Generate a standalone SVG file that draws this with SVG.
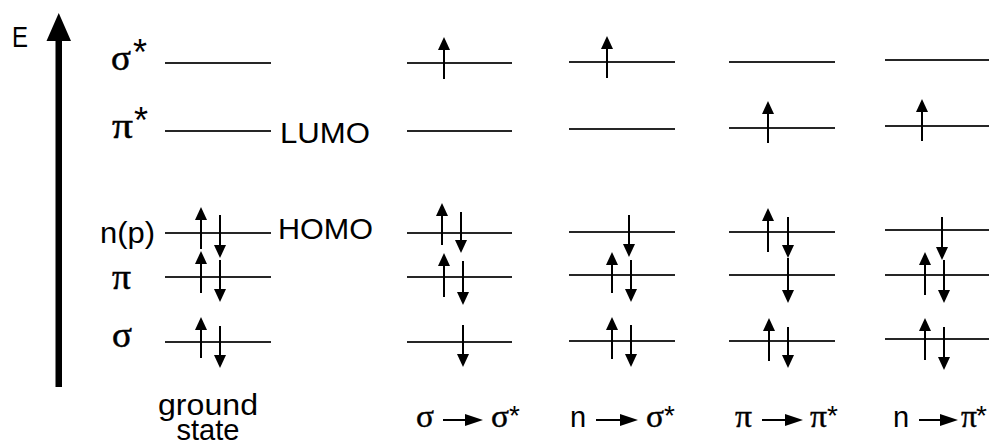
<svg xmlns="http://www.w3.org/2000/svg" width="989" height="446" viewBox="0 0 989 446">
<style>
.lv{stroke:#262626;stroke-width:2;fill:none}
.e{stroke:#000;stroke-width:2;fill:none;marker-end:url(#ah)}
.t{font-family:"Liberation Sans",Arial,sans-serif;font-size:29px;fill:#000}
.g{font-family:"Liberation Serif","Times New Roman",serif;font-size:36px;fill:#000;stroke:#000;stroke-width:0.5}
.gb{font-family:"Liberation Serif","Times New Roman",serif;font-size:32px;fill:#000;stroke:#000;stroke-width:0.4}
.st{font-family:"Liberation Sans",Arial,sans-serif;font-size:36px;fill:#000}
.sb{font-family:"Liberation Sans",Arial,sans-serif;font-size:28px;fill:#000}
</style>
<defs>
<marker id="ah" viewBox="0 0 13 12" refX="7" refY="6" markerWidth="13" markerHeight="12" markerUnits="userSpaceOnUse" orient="auto">
<path d="M0,0 L13,6 L0,12 z" fill="#000"/>
</marker>
<marker id="ah2" viewBox="0 0 18 12" refX="12" refY="6" markerWidth="18" markerHeight="12" markerUnits="userSpaceOnUse" orient="auto">
<path d="M0,0 L18,6 L0,12 z" fill="#000"/>
</marker>
</defs>
<rect width="989" height="446" fill="#fff"/>

<g id="axis">
<rect x="55.5" y="38" width="6.5" height="349" fill="#000"/>
<polygon points="58.75,13 71,41 46.5,41" fill="#000"/>
<text class="t" x="12" y="47" font-size="20" textLength="16" lengthAdjust="spacingAndGlyphs">E</text>
</g>

<g id="labels">
<text class="g" x="111" y="70" textLength="20" lengthAdjust="spacingAndGlyphs">σ</text><text class="st" x="133" y="65">*</text>
<text class="g" x="112" y="138" textLength="21" lengthAdjust="spacingAndGlyphs">π</text><text class="st" x="134" y="133">*</text>
<text class="t" x="100" y="243" textLength="55" lengthAdjust="spacingAndGlyphs">n(p)</text>
<text class="g" x="112" y="289" textLength="19" lengthAdjust="spacingAndGlyphs">π</text>
<text class="g" x="112" y="347" textLength="20" lengthAdjust="spacingAndGlyphs">σ</text>
<text class="t" x="280" y="143" textLength="90" lengthAdjust="spacingAndGlyphs">LUMO</text>
<text class="t" x="278" y="238.5" textLength="95" lengthAdjust="spacingAndGlyphs">HOMO</text>
</g>

<g id="col-ground">
<line class="lv" x1="165" y1="63" x2="271" y2="63"/>
<line class="lv" x1="165" y1="131" x2="271" y2="131"/>
<line class="lv" x1="165" y1="233" x2="271" y2="233"/>
<line class="lv" x1="165" y1="277" x2="271" y2="277"/>
<line class="lv" x1="165" y1="342" x2="271" y2="342"/>
<line class="e" x1="201" y1="249" x2="201" y2="213"/>
<line class="e" x1="220" y1="215" x2="220" y2="252"/>
<line class="e" x1="201" y1="293" x2="201" y2="257"/>
<line class="e" x1="220" y1="260" x2="220" y2="296"/>
<line class="e" x1="201" y1="358" x2="201" y2="323"/>
<line class="e" x1="220" y1="326" x2="220" y2="362"/>
<text class="t" x="208" y="415" text-anchor="middle" textLength="100" lengthAdjust="spacingAndGlyphs">ground</text>
<text class="t" x="208" y="440" text-anchor="middle" font-size="27" textLength="63" lengthAdjust="spacingAndGlyphs">state</text>
</g>

<g id="col-sigma-sigma-star">
<line class="lv" x1="407" y1="63" x2="512" y2="63"/>
<line class="lv" x1="407" y1="131" x2="512" y2="131"/>
<line class="lv" x1="407" y1="233" x2="512" y2="233"/>
<line class="lv" x1="407" y1="277" x2="512" y2="277"/>
<line class="lv" x1="407" y1="342" x2="512" y2="342"/>
<line class="e" x1="444" y1="79" x2="444" y2="43"/>
<line class="e" x1="442" y1="245" x2="442" y2="209"/>
<line class="e" x1="461" y1="212" x2="461" y2="247"/>
<line class="e" x1="444" y1="297" x2="444" y2="259"/>
<line class="e" x1="463" y1="261" x2="463" y2="299"/>
<line class="e" x1="463" y1="325" x2="463" y2="361"/>
<text class="gb" x="416" y="427" textLength="18" lengthAdjust="spacingAndGlyphs">σ</text>
<line x1="443" y1="420" x2="477" y2="420" stroke="#000" stroke-width="2" marker-end="url(#ah2)"/>
<text class="gb" x="491" y="427" textLength="18" lengthAdjust="spacingAndGlyphs">σ</text><text class="sb" x="509" y="425">*</text>
</g>

<g id="col-n-sigma-star">
<line class="lv" x1="569" y1="62" x2="675" y2="62"/>
<line class="lv" x1="569" y1="129" x2="675" y2="129"/>
<line class="lv" x1="569" y1="232" x2="675" y2="232"/>
<line class="lv" x1="569" y1="275" x2="675" y2="275"/>
<line class="lv" x1="569" y1="341" x2="675" y2="341"/>
<line class="e" x1="607" y1="78" x2="607" y2="42"/>
<line class="e" x1="629" y1="215" x2="629" y2="251"/>
<line class="e" x1="612" y1="293" x2="612" y2="258"/>
<line class="e" x1="631" y1="260" x2="631" y2="296"/>
<line class="e" x1="612" y1="359" x2="612" y2="323"/>
<line class="e" x1="631" y1="325" x2="631" y2="361"/>
<text class="t" x="570" y="427">n</text>
<line x1="596" y1="420" x2="632" y2="420" stroke="#000" stroke-width="2" marker-end="url(#ah2)"/>
<text class="gb" x="646" y="427" textLength="18" lengthAdjust="spacingAndGlyphs">σ</text><text class="sb" x="664" y="425">*</text>
</g>

<g id="col-pi-pi-star">
<line class="lv" x1="729" y1="62" x2="835" y2="62"/>
<line class="lv" x1="729" y1="128" x2="835" y2="128"/>
<line class="lv" x1="729" y1="232" x2="835" y2="232"/>
<line class="lv" x1="729" y1="275" x2="835" y2="275"/>
<line class="lv" x1="729" y1="341" x2="835" y2="341"/>
<line class="e" x1="768" y1="143" x2="768" y2="107"/>
<line class="e" x1="768" y1="252" x2="768" y2="214"/>
<line class="e" x1="788" y1="217" x2="788" y2="252"/>
<line class="e" x1="788" y1="258" x2="788" y2="297"/>
<line class="e" x1="769" y1="361" x2="769" y2="324"/>
<line class="e" x1="788" y1="327" x2="788" y2="362"/>
<text class="gb" x="735" y="427" textLength="17" lengthAdjust="spacingAndGlyphs">π</text>
<line x1="762" y1="420" x2="797" y2="420" stroke="#000" stroke-width="2" marker-end="url(#ah2)"/>
<text class="gb" x="810" y="427" textLength="17" lengthAdjust="spacingAndGlyphs">π</text><text class="sb" x="827" y="425">*</text>
</g>

<g id="col-n-pi-star">
<line class="lv" x1="885" y1="60" x2="989" y2="60"/>
<line class="lv" x1="885" y1="126" x2="989" y2="126"/>
<line class="lv" x1="885" y1="230" x2="989" y2="230"/>
<line class="lv" x1="885" y1="275" x2="989" y2="275"/>
<line class="lv" x1="885" y1="339" x2="989" y2="339"/>
<line class="e" x1="922" y1="141" x2="922" y2="105"/>
<line class="e" x1="942" y1="217" x2="942" y2="254"/>
<line class="e" x1="925" y1="295" x2="925" y2="258"/>
<line class="e" x1="944" y1="260" x2="944" y2="297"/>
<line class="e" x1="925" y1="360" x2="925" y2="324"/>
<line class="e" x1="944" y1="327" x2="944" y2="364"/>
<text class="t" x="893" y="427">n</text>
<line x1="919" y1="420" x2="952" y2="420" stroke="#000" stroke-width="2" marker-end="url(#ah2)"/>
<text class="gb" x="961" y="427" textLength="16" lengthAdjust="spacingAndGlyphs">π</text><text class="sb" x="976" y="425">*</text>
</g>
</svg>
